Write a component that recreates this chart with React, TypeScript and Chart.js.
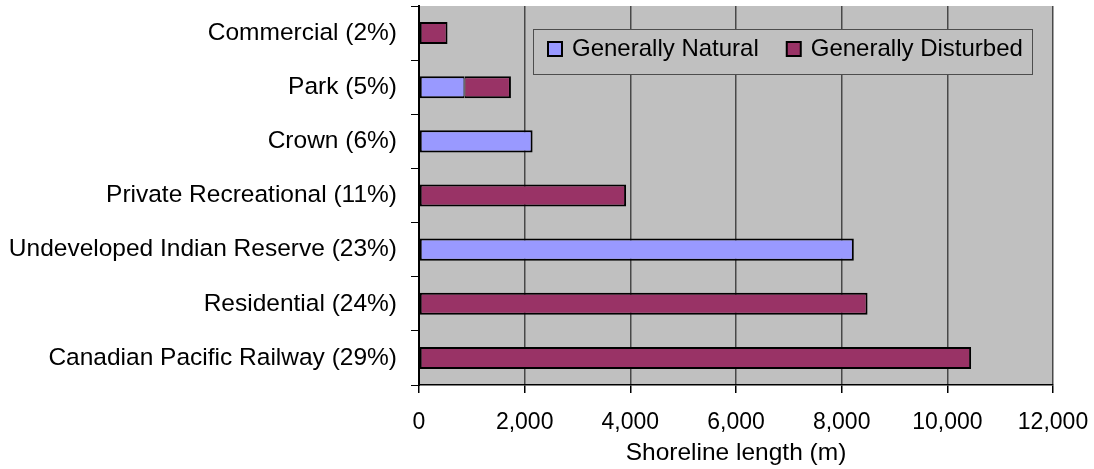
import { useEffect, useRef } from "react";
import { Chart, registerables } from "chart.js";

Chart.register(...registerables);

// Shoreline length by land-use category, metres
const categories = [
  "Commercial (2%)",
  "Park (5%)",
  "Crown (6%)",
  "Private Recreational (11%)",
  "Undeveloped Indian Reserve (23%)",
  "Residential (24%)",
  "Canadian Pacific Railway (29%)",
];
const generallyNatural: (number | null)[] = [null, 860, 2150, null, 8230, null, null];
const generallyDisturbed: (number | null)[] = [540, 880, null, 3920, null, 8490, 10450];
const xTickValues = [0, 2000, 4000, 6000, 8000, 10000, 12000];
const seriesNames = ["Generally Natural", "Generally Disturbed"];
const axisTitle = "Shoreline length (m)";

const FONT = "'Liberation Sans', Arial, sans-serif";
const PLOT_BG = "#C0C0C0";
const NATURAL = "#9999FF";
const DISTURBED = "#993366";

// Grey fill behind the plotting area
const plotBackground = {
  id: "plotBackground",
  beforeDraw(chart: any) {
    const { ctx, chartArea } = chart;
    ctx.save();
    ctx.fillStyle = PLOT_BG;
    ctx.fillRect(chartArea.left, chartArea.top, chartArea.right - chartArea.left, chartArea.bottom - chartArea.top);
    ctx.restore();
  },
};

// Framed legend sitting inside the plotting area
const boxedLegend = {
  id: "boxedLegend",
  afterDraw(chart: any) {
    const { ctx, chartArea } = chart;
    const left = chartArea.left + 114;
    const top = chartArea.top + 23;
    const w = 499;
    const h = 45;
    ctx.save();
    ctx.fillStyle = PLOT_BG;
    ctx.fillRect(left, top, w, h);
    ctx.strokeStyle = "#4d4d4d";
    ctx.lineWidth = 1;
    ctx.strokeRect(left + 0.5, top + 0.5, w, h);
    ctx.font = `24px ${FONT}`;
    ctx.textBaseline = "middle";
    ctx.textAlign = "left";
    let x = left + 15;
    chart.data.datasets.forEach((ds: any) => {
      ctx.fillStyle = ds.backgroundColor;
      ctx.fillRect(x, top + 13, 14, 14);
      ctx.lineWidth = 2;
      ctx.strokeStyle = "#000";
      ctx.strokeRect(x, top + 13, 14, 14);
      ctx.fillStyle = "#000";
      ctx.fillText(ds.label, x + 24, top + 20);
      x += 24 + ctx.measureText(ds.label).width + 28;
    });
    ctx.restore();
  },
};

export default function App() {
  const canvasRef = useRef<HTMLCanvasElement>(null);

  useEffect(() => {
    const canvas = canvasRef.current;
    if (!canvas) return;

    const chart = new Chart(canvas, {
      type: "bar",
      data: {
        labels: categories,
        datasets: [
          {
            label: seriesNames[0],
            data: generallyNatural,
            backgroundColor: NATURAL,
            borderColor: "#000",
            borderSkipped: false,
            borderWidth: (c: any) => {
              const shared = generallyDisturbed[c.dataIndex] != null;
              return { top: 2, bottom: 2, left: 2, right: shared ? 1 : 2 };
            },
          },
          {
            label: seriesNames[1],
            data: generallyDisturbed,
            backgroundColor: DISTURBED,
            borderColor: "#000",
            borderSkipped: false,
            borderWidth: (c: any) => {
              const shared = generallyNatural[c.dataIndex] != null;
              return { top: 2, bottom: 2, left: shared ? 1 : 2, right: 2 };
            },
          },
        ],
      },
      options: {
        indexAxis: "y",
        responsive: false,
        animation: false,
        layout: { padding: { top: 6, right: 41, left: 0, bottom: 0 } },
        datasets: {
          bar: { categoryPercentage: 1, barPercentage: 0.407 },
        },
        plugins: {
          legend: { display: false },
          tooltip: { enabled: false },
        },
        scales: {
          x: {
            type: "linear",
            stacked: true,
            min: 0,
            max: 12000,
            afterBuildTicks: (s: any) => {
              s.ticks = xTickValues.map((v) => ({ value: v }));
            },
            afterFit: (s: any) => {
              s.height = 84;
              s.paddingLeft = 0;
              s.paddingRight = 0;
            },
            ticks: {
              color: "#000",
              font: { family: FONT, size: 23 },
              padding: 16,
              maxRotation: 0,
              callback: (v: any) => Number(v).toLocaleString("en-US"),
            },
            grid: {
              color: "#484848",
              lineWidth: 1.5,
              drawTicks: true,
              tickLength: 8,
              tickColor: "#000",
            },
            border: { display: true, color: "#000", width: 1.5 },
            title: {
              display: true,
              text: axisTitle,
              color: "#000",
              font: { family: FONT, size: 24.5 },
              padding: { top: 0, bottom: 1 },
            },
          },
          y: {
            type: "category",
            stacked: true,
            afterFit: (s: any) => {
              s.width = 419;
              s.paddingTop = 0;
              s.paddingBottom = 0;
            },
            ticks: {
              color: "#000",
              font: { family: FONT, size: 24.5 },
              padding: 14,
            },
            grid: {
              offset: true,
              drawOnChartArea: false,
              drawTicks: true,
              tickLength: 8,
              tickColor: "#000",
            },
            border: { display: true, color: "#000", width: 2 },
          },
        },
      },
      plugins: [plotBackground, boxedLegend],
    } as any);

    return () => chart.destroy();
  }, []);

  return (
    <div style={{ position: "absolute", left: 0, top: 0, width: 1094, height: 469, background: "#fff" }}>
      <canvas ref={canvasRef} width={1094} height={469} style={{ display: "block" }} />
    </div>
  );
}
